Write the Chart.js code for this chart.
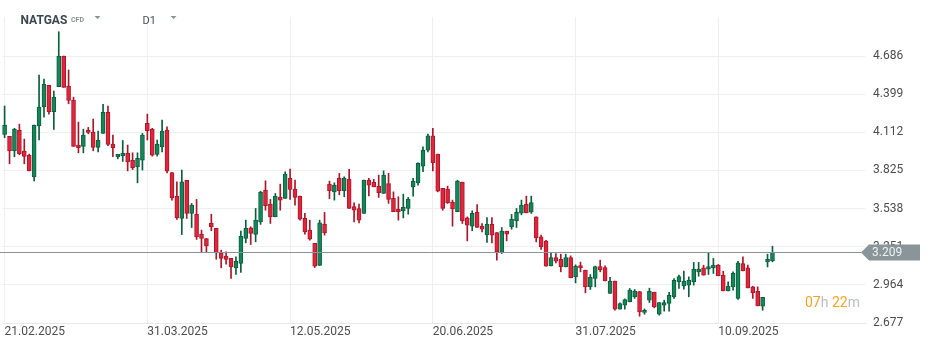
<!DOCTYPE html>
<html>
<head>
<meta charset="utf-8">
<script src="https://cdn.jsdelivr.net/npm/chart.js@4.4.1/dist/chart.umd.min.js"></script>
<style>
  html, body { margin: 0; padding: 0; background: #ffffff; }
  #wrap { width: 932px; height: 346px; }
</style>
</head>
<body>
<div id="wrap"><canvas id="chart" width="932" height="346"></canvas></div>
<script>
// NATGAS CFD, D1 candles
const open = [
  4.096, 4.081, 3.973, 4.127, 3.971, 3.941, 3.777, 4.161, 4.304, 4.465,
  4.267, 4.455, 4.686, 4.460, 4.355, 4.016, 4.006, 4.129, 4.114, 3.998,
  4.104, 4.262, 4.023, 3.928, 3.935, 3.956, 3.901, 3.852, 3.903, 4.179,
  4.136, 3.946, 4.003, 4.129, 3.810, 3.632, 3.464, 3.750, 3.502, 3.494,
  3.346, 3.313, 3.429, 3.389, 3.205, 3.180, 3.163, 3.092, 3.125, 3.313,
  3.393, 3.343, 3.438, 3.677, 3.572, 3.476, 3.624, 3.615, 3.765, 3.684,
  3.632, 3.464, 3.376, 3.276, 3.110, 3.421, 3.722, 3.664, 3.765, 3.672,
  3.758, 3.554, 3.539, 3.502, 3.752, 3.735, 3.707, 3.652, 3.727, 3.615,
  3.534, 3.521, 3.539, 3.702, 3.732, 3.858, 3.978, 4.086, 3.948, 3.690,
  3.685, 3.587, 3.514, 3.737, 3.468, 3.406, 3.511, 3.406, 3.340, 3.419,
  3.358, 3.208, 3.368, 3.401, 3.446, 3.504, 3.572, 3.511, 3.476, 3.325,
  3.293, 3.107, 3.170, 3.157, 3.099, 3.170, 3.024, 3.110, 3.075, 2.949,
  3.012, 3.102, 3.095, 2.899, 2.992, 2.781, 2.811, 2.836, 2.874, 2.914,
  2.756, 2.849, 2.909, 2.743, 2.811, 2.824, 2.874, 2.987, 2.956, 2.962,
  2.987, 3.062, 3.092, 3.082, 3.092, 3.112, 3.037, 2.919, 2.949, 2.862,
  3.125, 3.092, 2.949, 2.916, 2.803, 3.137, 3.145
]
const high = [
  4.310, 4.081, 4.142, 4.174, 4.061, 3.948, 4.166, 4.543, 4.513, 4.465,
  4.422, 4.869, 4.686, 4.581, 4.377, 4.189, 4.136, 4.149, 4.212, 4.121,
  4.322, 4.310, 4.091, 3.946, 4.051, 4.016, 3.958, 3.958, 4.104, 4.249,
  4.142, 4.054, 4.204, 4.154, 3.810, 3.740, 3.828, 3.750, 3.577, 3.607,
  3.376, 3.313, 3.496, 3.389, 3.225, 3.212, 3.163, 3.175, 3.368, 3.451,
  3.401, 3.539, 3.669, 3.747, 3.607, 3.652, 3.722, 3.815, 3.835, 3.752,
  3.632, 3.502, 3.451, 3.276, 3.451, 3.509, 3.745, 3.732, 3.803, 3.777,
  3.833, 3.581, 3.572, 3.752, 3.765, 3.758, 3.790, 3.822, 3.803, 3.664,
  3.627, 3.647, 3.622, 3.765, 3.883, 4.003, 4.099, 4.142, 3.948, 3.690,
  3.707, 3.602, 3.752, 3.737, 3.476, 3.521, 3.569, 3.426, 3.471, 3.471,
  3.358, 3.396, 3.368, 3.494, 3.539, 3.602, 3.632, 3.632, 3.476, 3.338,
  3.300, 3.205, 3.200, 3.195, 3.195, 3.182, 3.115, 3.135, 3.075, 3.042,
  3.105, 3.150, 3.107, 3.020, 2.992, 2.828, 2.858, 2.937, 2.929, 2.914,
  2.783, 2.939, 2.909, 2.831, 2.849, 2.907, 3.012, 3.037, 3.067, 3.024,
  3.133, 3.133, 3.112, 3.208, 3.163, 3.118, 3.067, 2.987, 3.062, 3.142,
  3.175, 3.112, 2.954, 2.949, 2.871, 3.195, 3.255
]
const low = [
  4.071, 3.875, 3.928, 3.943, 3.875, 3.822, 3.747, 4.054, 4.227, 4.249,
  4.134, 4.455, 4.450, 4.327, 4.006, 3.958, 3.958, 4.101, 3.973, 3.965,
  4.104, 4.011, 3.928, 3.913, 3.893, 3.822, 3.831, 3.732, 3.828, 4.054,
  3.933, 3.933, 3.965, 3.807, 3.602, 3.456, 3.343, 3.464, 3.396, 3.306,
  3.212, 3.212, 3.371, 3.157, 3.092, 3.120, 3.012, 3.042, 3.057, 3.280,
  3.268, 3.288, 3.419, 3.526, 3.426, 3.476, 3.526, 3.615, 3.607, 3.564,
  3.451, 3.346, 3.300, 3.095, 3.110, 3.338, 3.612, 3.602, 3.642, 3.627,
  3.539, 3.438, 3.431, 3.502, 3.634, 3.702, 3.622, 3.652, 3.577, 3.514,
  3.451, 3.468, 3.496, 3.632, 3.715, 3.815, 3.965, 3.822, 3.664, 3.526,
  3.577, 3.406, 3.514, 3.426, 3.295, 3.371, 3.396, 3.363, 3.283, 3.280,
  3.150, 3.200, 3.295, 3.383, 3.396, 3.491, 3.506, 3.502, 3.288, 3.230,
  3.105, 3.107, 3.130, 3.062, 3.099, 3.017, 2.979, 3.062, 2.904, 2.929,
  2.949, 3.062, 2.994, 2.899, 2.773, 2.781, 2.781, 2.836, 2.862, 2.728,
  2.743, 2.831, 2.791, 2.736, 2.766, 2.766, 2.862, 2.937, 2.932, 2.874,
  2.962, 3.029, 3.037, 3.042, 3.050, 3.032, 2.919, 2.919, 2.924, 2.854,
  3.069, 2.941, 2.862, 2.806, 2.773, 3.099, 3.137
]
const close = [
  4.166, 3.973, 4.136, 3.950, 3.931, 3.822, 4.166, 4.302, 4.473, 4.267,
  4.377, 4.686, 4.450, 4.352, 4.006, 3.996, 4.091, 4.111, 3.998, 4.054,
  4.262, 4.021, 3.996, 3.946, 3.956, 3.890, 3.846, 3.916, 4.091, 4.124,
  3.941, 4.023, 4.121, 3.820, 3.619, 3.468, 3.740, 3.502, 3.564, 3.325,
  3.313, 3.258, 3.401, 3.205, 3.163, 3.155, 3.099, 3.142, 3.331, 3.389,
  3.351, 3.451, 3.662, 3.559, 3.476, 3.632, 3.602, 3.797, 3.682, 3.622,
  3.459, 3.363, 3.308, 3.105, 3.431, 3.355, 3.672, 3.715, 3.672, 3.767,
  3.539, 3.526, 3.451, 3.752, 3.715, 3.702, 3.657, 3.790, 3.607, 3.514,
  3.514, 3.547, 3.609, 3.745, 3.878, 3.978, 4.086, 3.883, 3.669, 3.539,
  3.581, 3.536, 3.745, 3.446, 3.413, 3.502, 3.396, 3.383, 3.421, 3.338,
  3.212, 3.368, 3.346, 3.459, 3.509, 3.564, 3.506, 3.584, 3.318, 3.250,
  3.105, 3.170, 3.142, 3.099, 3.170, 3.017, 3.105, 3.092, 2.949, 3.020,
  3.102, 3.077, 2.994, 2.992, 2.781, 2.824, 2.854, 2.924, 2.916, 2.761,
  2.773, 2.916, 2.798, 2.831, 2.831, 2.886, 2.999, 3.027, 2.992, 2.999,
  3.082, 3.082, 3.037, 3.102, 3.112, 3.032, 2.919, 2.954, 3.050, 3.130,
  3.069, 2.941, 2.904, 2.806, 2.871, 3.157, 3.209
]

const dateTicks = [0, 29, 58, 87, 116, 145]
const dateLabels = ["21.02.2025", "31.03.2025", "12.05.2025", "20.06.2025", "31.07.2025", "10.09.2025"]
const priceTicks = [2.677, 2.964, 3.251, 3.538, 3.825, 4.112, 4.399, 4.686]
const lastPrice = 3.209

const UP = "#14875a"
const UP_EDGE = "#0b5e3c"
const DOWN = "#e3243b"
const DOWN_EDGE = "#a8172a"

const isUp = open.map((o, i) => close[i] >= o)

const overlay = {
  id: "overlay",
  afterDraw(chart) {
    const { ctx } = chart
    const y = Math.round(chart.scales.y.getPixelForValue(lastPrice)) + 0.5

    ctx.save()
    // last price line + tag
    ctx.strokeStyle = "#87939a"
    ctx.lineWidth = 1
    ctx.beginPath()
    ctx.moveTo(0, y)
    ctx.lineTo(861, y)
    ctx.stroke()

    ctx.fillStyle = "#8a959a"
    ctx.beginPath()
    ctx.moveTo(861, y)
    ctx.lineTo(869, y - 8)
    ctx.lineTo(920, y - 8)
    ctx.lineTo(920, y + 8)
    ctx.lineTo(869, y + 8)
    ctx.closePath()
    ctx.fill()

    ctx.fillStyle = "#eef1f2"
    ctx.font = "12px Roboto"
    ctx.textBaseline = "middle"
    ctx.textAlign = "left"
    ctx.fillText(lastPrice.toFixed(3), 872, y + 0.5)

    // header
    ctx.textBaseline = "alphabetic"
    ctx.fillStyle = "#3b4651"
    ctx.font = "bold 12px Roboto"
    ctx.fillText("NATGAS", 20.5, 23.5)
    ctx.fillStyle = "#8c9196"
    ctx.font = "bold 7px Roboto"
    ctx.fillText("CFD", 71, 22)
    ctx.fillStyle = "#4a4f55"
    ctx.font = "11px Roboto"
    ctx.fillText("D1", 142.5, 24)

    ctx.fillStyle = "#8c9196"
    for (const tx of [94.5, 170.5]) {
      ctx.beginPath()
      ctx.moveTo(tx, 16)
      ctx.lineTo(tx + 6, 16)
      ctx.lineTo(tx + 3, 19)
      ctx.closePath()
      ctx.fill()
    }

    // time to candle close
    const parts = [["07", "#f5a225"], ["h", "#b9bdc0"], [" ", "#b9bdc0"], ["22", "#f5a225"], ["m", "#b9bdc0"]]
    ctx.font = "14px Roboto"
    let x = 805
    for (const [text, color] of parts) {
      ctx.fillStyle = color
      ctx.fillText(text, x, 306.5)
      x += ctx.measureText(text).width
    }
    ctx.restore()
  }
}

new Chart(document.getElementById("chart"), {
  type: "bar",
  data: {
    datasets: [
      {
        data: open.map((o, i) => ({ x: i, y: [low[i], high[i]] })),
        backgroundColor: isUp.map(u => u ? UP_EDGE : DOWN_EDGE),
        barThickness: 1,
        grouped: false,
        order: 2
      },
      {
        data: open.map((o, i) => ({ x: i, y: [Math.min(o, close[i]), Math.max(o, close[i])] })),
        backgroundColor: isUp.map(u => u ? UP : DOWN),
        borderColor: isUp.map(u => u ? UP_EDGE : DOWN_EDGE),
        borderWidth: 1,
        borderSkipped: false,
        barThickness: 4,
        minBarLength: 2,
        grouped: false,
        order: 1
      }
    ]
  },
  options: {
    responsive: false,
    animation: false,
    devicePixelRatio: 1,
    layout: {
      padding: { top: 17, left: 2, right: 0, bottom: 0 }
    },
    plugins: {
      legend: { display: false },
      tooltip: { enabled: false }
    },
    scales: {
      x: {
        type: "linear",
        min: -0.53,
        max: 174.8,
        offset: false,
        afterBuildTicks: (scale) => {
          scale.ticks = dateTicks.map(v => ({ value: v }))
        },
        afterFit: (scale) => {
          scale.height = 23
        },
        grid: {
          color: "#efefef",
          offset: false,
          drawTicks: false
        },
        border: {
          color: "#e8e8e8"
        },
        ticks: {
          autoSkip: false,
          maxRotation: 0,
          align: "start",
          padding: 2,
          color: "#4d4d4d",
          font: { family: "Roboto", size: 12 },
          callback: (value, index) => dateLabels[index]
        }
      },
      y: {
        position: "right",
        stacked: false,
        min: 2.677,
        max: 4.98,
        afterBuildTicks: (scale) => {
          scale.ticks = priceTicks.map(v => ({ value: v }))
        },
        afterFit: (scale) => {
          scale.width = 67
        },
        grid: {
          color: "#efefef",
          drawTicks: false
        },
        border: {
          display: false
        },
        ticks: {
          padding: 8,
          color: "#4d4d4d",
          font: { family: "Roboto", size: 12 },
          callback: (value) => Number(value).toFixed(3)
        }
      }
    }
  },
  plugins: [overlay]
})
</script>
</body>
</html>
